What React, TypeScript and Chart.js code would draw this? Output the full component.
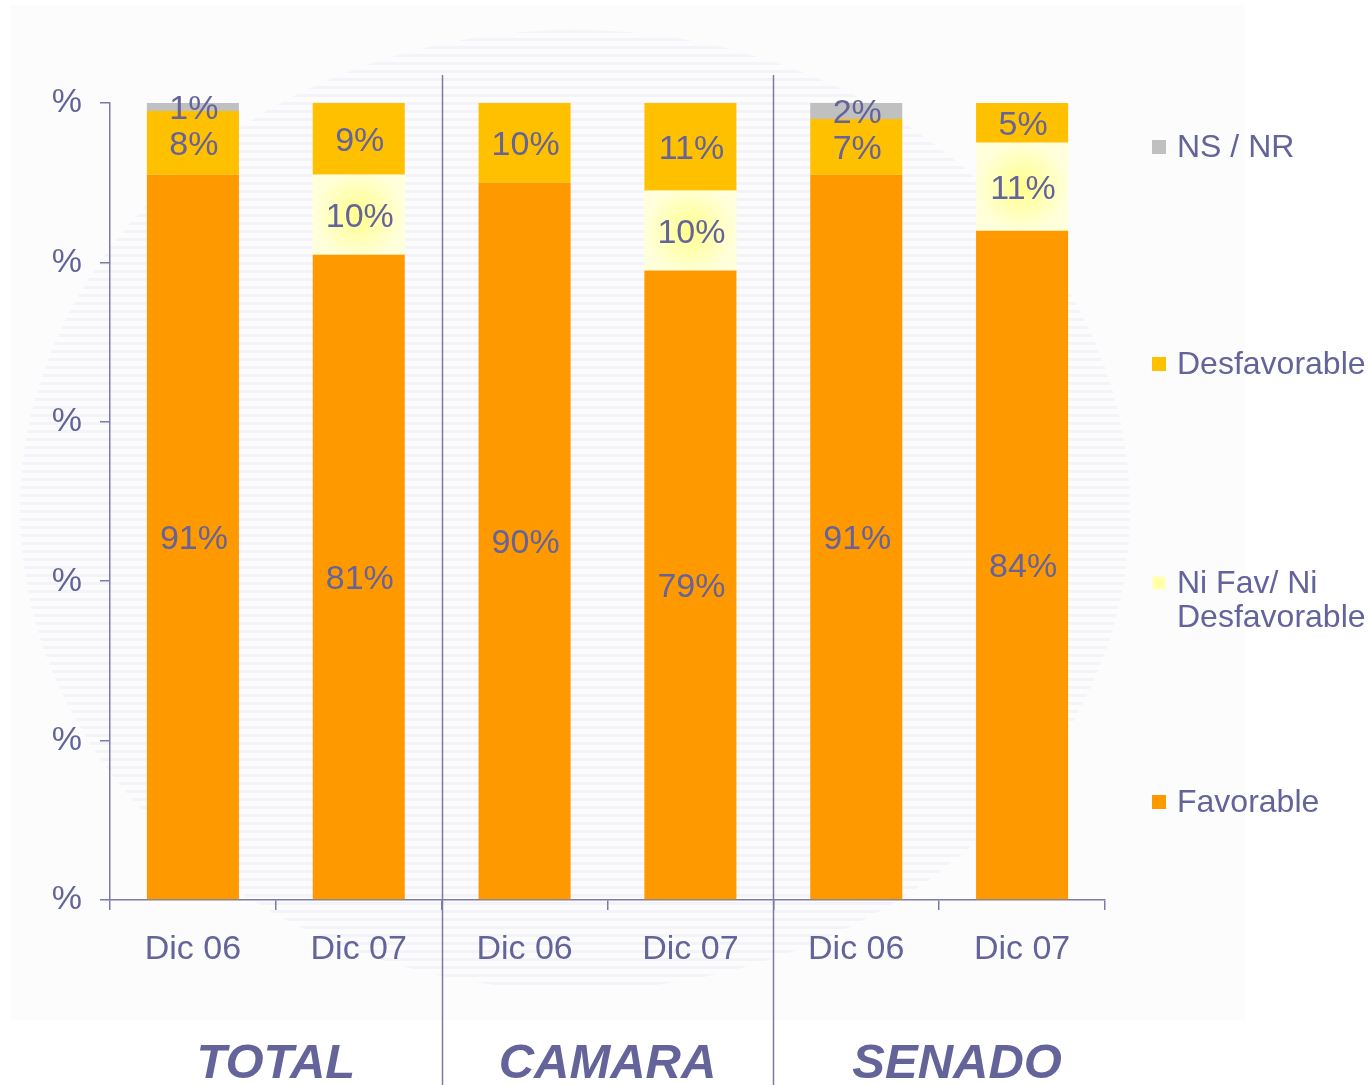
import React, { useEffect, useRef } from 'react';
import { Chart, registerables } from 'chart.js';

Chart.register(...registerables);

const categories = ['Dic 06', 'Dic 07', 'Dic 06', 'Dic 07', 'Dic 06', 'Dic 07'];
const groups = ['TOTAL', 'CAMARA', 'SENADO'];
const favorable = [91, 81, 90, 79, 91, 84];
const niFav = [0, 10, 0, 10, 0, 11];
const desfavorable = [8, 9, 10, 11, 7, 5];
const nsnr = [1, 0, 0, 0, 2, 0];
const yTickLabel = '%';
const legendNames = ['NS / NR', 'Desfavorable', 'Ni Fav/ Ni\nDesfavorable', 'Favorable'];

const FONT = "'Liberation Sans', Arial, sans-serif";
const TEXT = '#64639a';
const AXIS = '#7b7aa8';
const C_FAV = '#ff9900';
const C_DES = '#ffc000';
const C_NI = '#ffffcc';
const C_NS = '#c0c0c0';

const decorPlugin = {
  id: 'decor',
  beforeDraw(chart: any) {
    const ctx = chart.ctx;
    ctx.save();
    ctx.fillStyle = '#fcfcfd';
    ctx.fillRect(10, 5, 1235, 1015);
    ctx.beginPath();
    ctx.ellipse(575, 510, 555, 480, 0, 0, Math.PI * 2);
    ctx.clip();
    ctx.fillStyle = 'rgba(232,232,244,0.45)';
    for (let y = 30; y < 1000; y += 8) {
      ctx.fillRect(0, y, 1368, 3);
    }
    ctx.restore();
  },
  afterDatasetsDraw(chart: any) {
    const ctx = chart.ctx;
    const metaNi = chart.getDatasetMeta(1);
    metaNi.data.forEach((bar: any, i: number) => {
      if (!niFav[i]) return;
      const x0 = bar.x - bar.width / 2;
      const top = bar.y;
      const h = bar.base - bar.y;
      const cx = bar.x;
      const cy = top + h / 2;
      const g = ctx.createRadialGradient(cx, cy, 0, cx, cy, bar.width / 2);
      g.addColorStop(0, '#ffff8c');
      g.addColorStop(1, '#ffffdc');
      ctx.save();
      ctx.fillStyle = g;
      ctx.fillRect(x0, top, bar.width, h);
      ctx.restore();
    });
    ctx.save();
    ctx.font = `34px ${FONT}`;
    ctx.fillStyle = TEXT;
    ctx.textAlign = 'center';
    ctx.textBaseline = 'middle';
    chart.data.datasets.forEach((ds: any, di: number) => {
      const meta = chart.getDatasetMeta(di);
      meta.data.forEach((bar: any, i: number) => {
        const v = ds.data[i];
        if (!v) return;
        ctx.fillText(`${v}%`, bar.x + 1, (bar.y + bar.base) / 2 + 3);
      });
    });
    ctx.restore();
  },
  afterDraw(chart: any) {
    const ctx = chart.ctx;
    const xs = chart.scales.x;
    const w = (xs.right - xs.left) / categories.length;
    ctx.save();
    ctx.strokeStyle = AXIS;
    ctx.lineWidth = 1.5;
    [2, 4].forEach((k) => {
      const x = Math.round(xs.left + k * w) + 0.5;
      ctx.beginPath();
      ctx.moveTo(x, 75);
      ctx.lineTo(x, 1085);
      ctx.stroke();
    });
    ctx.fillStyle = TEXT;
    ctx.font = `italic bold 49px ${FONT}`;
    ctx.textAlign = 'center';
    ctx.textBaseline = 'middle';
    groups.forEach((g, k) => {
      const cx = xs.left + (2 * k + 1) * w + (k === 2 ? 18 : 0);
      ctx.fillText(g, cx, 1064);
    });
    const legendColors = [C_NS, C_DES, C_NI, C_FAV];
    const legendY = [147, 364, 583, 802];
    ctx.font = `32px ${FONT}`;
    ctx.textAlign = 'left';
    legendNames.forEach((name, i) => {
      const y = legendY[i];
      if (i === 2) {
        const g = ctx.createRadialGradient(1159, y, 0, 1159, y, 8);
        g.addColorStop(0, '#ffff8c');
        g.addColorStop(1, '#ffffd0');
        ctx.fillStyle = g;
      } else {
        ctx.fillStyle = legendColors[i];
      }
      ctx.fillRect(1152, y - 7, 14, 14);
      ctx.fillStyle = TEXT;
      name.split('\n').forEach((line, li) => {
        ctx.fillText(line, 1177, y + li * 34 + 1);
      });
    });
    ctx.restore();
  },
};

export default function App() {
  const ref = useRef<HTMLCanvasElement | null>(null);
  useEffect(() => {
    if (!ref.current) return;
    const chart = new Chart(ref.current, {
      type: 'bar',
      data: {
        labels: categories,
        datasets: [
          { label: 'Favorable', data: favorable, backgroundColor: C_FAV },
          { label: 'Ni Fav/ Ni Desfavorable', data: niFav, backgroundColor: C_NI },
          { label: 'Desfavorable', data: desfavorable, backgroundColor: C_DES },
          { label: 'NS / NR', data: nsnr, backgroundColor: C_NS },
        ],
      },
      options: {
        animation: false,
        responsive: false,
        devicePixelRatio: 1,
        datasets: { bar: { barPercentage: 0.555, categoryPercentage: 1, borderWidth: 0 } },
        layout: { padding: { left: 0, top: 103, right: 263, bottom: 0 } },
        plugins: { legend: { display: false }, tooltip: { enabled: false } },
        scales: {
          x: {
            stacked: true,
            afterFit: (s: any) => { s.height = 185; },
            grid: { offset: true, drawOnChartArea: false, tickLength: 10, color: AXIS, lineWidth: 1.5 },
            border: { color: AXIS, width: 1.5 },
            ticks: { color: TEXT, font: { family: FONT, size: 34 }, padding: 19, maxRotation: 0 },
          },
          y: {
            stacked: true,
            min: 0,
            max: 100,
            afterFit: (s: any) => { s.width = 110; },
            grid: { drawOnChartArea: false, tickLength: 10, color: AXIS, lineWidth: 1.5 },
            border: { color: AXIS, width: 1.5 },
            ticks: { stepSize: 20, color: TEXT, font: { family: FONT, size: 34 }, padding: 18, callback: () => yTickLabel },
          },
        },
      },
      plugins: [decorPlugin],
    });
    return () => chart.destroy();
  }, []);
  return (
    <div style={{ position: 'absolute', left: 0, top: 0, width: 1368, height: 1085, background: '#fff' }}>
      <canvas ref={ref} width={1368} height={1085} style={{ display: 'block' }} />
    </div>
  );
}
